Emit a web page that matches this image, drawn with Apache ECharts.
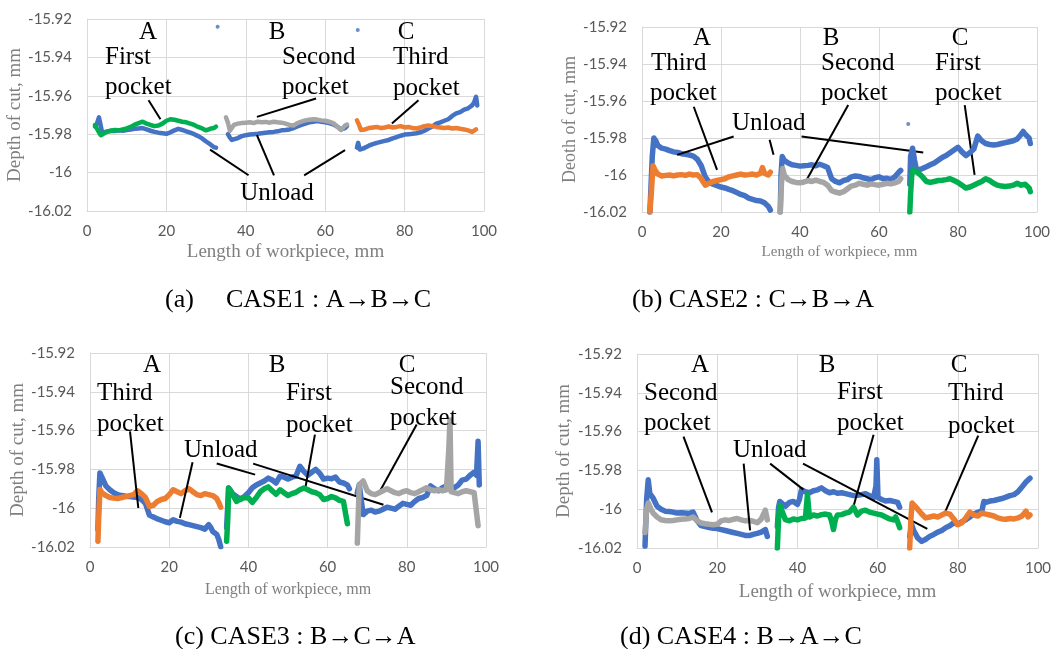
<!DOCTYPE html>
<html>
<head>
<meta charset="utf-8">
<script src="https://cdn.jsdelivr.net/npm/echarts@6/dist/echarts.min.js"></script>
<style>
  html, body { margin: 0; padding: 0; background: #fff; }
  #main { width: 1060px; height: 649px; }
</style>
</head>
<body>
<div id="main"></div>
<script>
// colours of the excel series
var colors = {blue: '#4472C4', orange: '#ED7D31', gray: '#A5A5A5', green: '#00B050'};

var yTicks = [-16.02, -16.00, -15.98, -15.96, -15.94, -15.92];
var xTicks = [0, 20, 40, 60, 80, 100];

/* ---------- CASE1 (a) ---------- */
var aBlueA = [[2,-15.9760],[2.5,-15.9745],[3,-15.9712],[3.3,-15.9740],[3.8,-15.9790],[4.5,-15.9788],[5,-15.9785],[6,-15.9782],[7,-15.9784],[8,-15.9780],[9,-15.9782],[10,-15.9778],[11,-15.9775],[12,-15.9772],[13,-15.9770],[14,-15.9768],[15,-15.9775],[16,-15.9782],[17,-15.9788],[18,-15.9792],[19,-15.9795],[20,-15.9798],[21,-15.9790],[22,-15.9780],[23,-15.9772],[24,-15.9778],[25,-15.9785],[26,-15.9792],[27,-15.9800],[28,-15.9810],[29,-15.9822],[30,-15.9838],[31,-15.9852],[32,-15.9868],[32.5,-15.9870]];
var aGreenA = [[2,-15.9752],[3,-15.9790],[3.5,-15.9805],[4,-15.9795],[5,-15.9788],[6,-15.9782],[7,-15.9778],[8,-15.9780],[9,-15.9775],[10,-15.9770],[11,-15.9762],[12,-15.9750],[13,-15.9742],[14,-15.9735],[15,-15.9745],[16,-15.9752],[17,-15.9758],[18,-15.9755],[19,-15.9745],[20,-15.9730],[21,-15.9722],[22,-15.9725],[23,-15.9730],[24,-15.9735],[25,-15.9738],[26,-15.9745],[27,-15.9752],[28,-15.9762],[29,-15.9770],[30,-15.9780],[31,-15.9772],[32,-15.9768],[32.5,-15.9760]];
var aBlueB = [[35.5,-15.9800],[36,-15.9818],[36.5,-15.9830],[37,-15.9835],[38,-15.9820],[39,-15.9810],[40,-15.9805],[41,-15.9802],[42,-15.9800],[43,-15.9798],[44,-15.9795],[45,-15.9792],[46,-15.9790],[47,-15.9788],[48,-15.9785],[49,-15.9780],[50,-15.9778],[51,-15.9775],[52,-15.9768],[53,-15.9760],[54,-15.9752],[55,-15.9745],[56,-15.9738],[57,-15.9735],[58,-15.9732],[59,-15.9735],[60,-15.9738],[61,-15.9742],[62,-15.9748],[63,-15.9760],[64,-15.9775],[64.5,-15.9780],[65,-15.9768],[65.5,-15.9758]];
var aGrayB = [[35,-15.9712],[35.5,-15.9740],[36,-15.9782],[36.5,-15.9775],[37,-15.9752],[38,-15.9745],[39,-15.9742],[40,-15.9740],[41,-15.9738],[42,-15.9742],[43,-15.9735],[44,-15.9738],[45,-15.9736],[46,-15.9740],[47,-15.9735],[48,-15.9738],[49,-15.9740],[50,-15.9745],[51,-15.9752],[52,-15.9755],[53,-15.9742],[54,-15.9735],[55,-15.9728],[56,-15.9725],[57,-15.9722],[58,-15.9724],[59,-15.9728],[60,-15.9730],[61,-15.9735],[62,-15.9742],[63,-15.9760],[64,-15.9778],[64.5,-15.9770],[65,-15.9755],[65.5,-15.9750]];
var aBlueC = [[68,-15.9870],[68.3,-15.9845],[68.7,-15.9880],[69,-15.9888],[69.5,-15.9875],[70,-15.9870],[71,-15.9860],[72,-15.9852],[73,-15.9845],[74,-15.9840],[75,-15.9835],[76,-15.9830],[77,-15.9822],[78,-15.9815],[79,-15.9808],[80,-15.9802],[81,-15.9800],[82,-15.9798],[83,-15.9795],[84,-15.9790],[85,-15.9782],[86,-15.9770],[87,-15.9760],[88,-15.9745],[89,-15.9738],[90,-15.9730],[91,-15.9722],[92,-15.9705],[93,-15.9692],[94,-15.9685],[95,-15.9672],[96,-15.9665],[97,-15.9650],[97.5,-15.9635],[98,-15.9605],[98.3,-15.9650]];
var aOrangeC = [[68,-15.9728],[68.5,-15.9750],[69,-15.9778],[69.5,-15.9785],[70,-15.9775],[71,-15.9768],[72,-15.9765],[73,-15.9762],[74,-15.9768],[75,-15.9765],[76,-15.9760],[77,-15.9765],[78,-15.9762],[79,-15.9758],[80,-15.9765],[81,-15.9762],[82,-15.9768],[83,-15.9770],[84,-15.9765],[85,-15.9758],[86,-15.9755],[87,-15.9758],[88,-15.9762],[89,-15.9765],[90,-15.9768],[91,-15.9765],[92,-15.9770],[93,-15.9768],[94,-15.9772],[95,-15.9775],[96,-15.9780],[97,-15.9788],[97.5,-15.9782],[98,-15.9775]];
var aOutliers = [[32.9,-15.9240],[68.2,-15.9257]];
var aLeaders = [[15.5,-15.9623,18.5,-15.9722],[57.7,-15.9614,42.8,-15.9710],[83.5,-15.9623,76.8,-15.9744],[40.7,-16.0014,31.0,-15.9880],[47.1,-16.0014,42.8,-15.9805],[54.7,-16.0014,65.0,-15.9883]];

/* ---------- CASE2 (b) ---------- */
var bBlueA = [[2,-16.0200],[2.3,-16.0050],[2.6,-15.9900],[3,-15.9800],[3.5,-15.9815],[4,-15.9840],[5,-15.9855],[6,-15.9860],[7,-15.9868],[8,-15.9875],[9,-15.9878],[10,-15.9885],[11,-15.9888],[12,-15.9892],[13,-15.9898],[14,-15.9915],[15,-15.9950],[16,-16.0010],[17,-16.0040],[18,-16.0050],[19,-16.0058],[20,-16.0065],[21,-16.0070],[22,-16.0078],[23,-16.0085],[24,-16.0095],[25,-16.0105],[26,-16.0112],[27,-16.0125],[28,-16.0132],[29,-16.0138],[30,-16.0140],[31,-16.0150],[32,-16.0170],[32.5,-16.0190]];
var bOrangeA = [[2,-16.0200],[2.4,-16.0080],[2.8,-15.9950],[3.2,-15.9970],[4,-15.9995],[5,-16.0005],[6,-16.0002],[7,-16.0000],[8,-16.0005],[9,-16.0000],[10,-15.9998],[11,-16.0002],[12,-15.9995],[13,-16.0000],[14,-15.9998],[15,-16.0020],[16,-16.0055],[17,-16.0045],[18,-16.0035],[19,-16.0030],[20,-16.0025],[21,-16.0020],[22,-16.0010],[23,-16.0005],[24,-16.0000],[25,-15.9995],[26,-16.0000],[27,-15.9998],[28,-15.9995],[29,-16.0000],[30,-15.9990],[30.5,-15.9960],[31,-15.9990],[32,-16.0000],[32.5,-15.9985]];
var bBlueB = [[35,-16.0200],[35.2,-16.0000],[35.5,-15.9900],[36,-15.9920],[37,-15.9935],[38,-15.9945],[39,-15.9948],[40,-15.9952],[41,-15.9950],[42,-15.9948],[43,-15.9945],[44,-15.9950],[45,-15.9942],[46,-15.9950],[47,-15.9960],[48,-16.0020],[49,-16.0035],[50,-16.0042],[51,-16.0030],[52,-16.0025],[53,-16.0010],[54,-16.0005],[55,-16.0008],[56,-16.0015],[57,-16.0020],[58,-16.0025],[59,-16.0015],[60,-16.0010],[61,-16.0020],[62,-16.0018],[63,-16.0025],[64,-16.0010],[65,-15.9985],[65.5,-15.9975]];
var bGrayB = [[35,-16.0200],[35.3,-16.0050],[35.6,-15.9965],[36,-16.0000],[37,-16.0025],[38,-16.0035],[39,-16.0040],[40,-16.0042],[41,-16.0038],[42,-16.0030],[43,-16.0035],[44,-16.0028],[45,-16.0035],[46,-16.0040],[47,-16.0055],[48,-16.0085],[49,-16.0092],[50,-16.0098],[51,-16.0090],[52,-16.0075],[53,-16.0060],[54,-16.0055],[55,-16.0045],[56,-16.0050],[57,-16.0055],[58,-16.0048],[59,-16.0052],[60,-16.0055],[61,-16.0050],[62,-16.0045],[63,-16.0048],[64,-16.0042],[65,-16.0035],[65.5,-16.0020]];
var bBlueC = [[67.8,-16.0050],[68,-15.9900],[68.5,-15.9855],[69,-15.9920],[69.5,-15.9975],[70,-15.9980],[71,-15.9965],[72,-15.9955],[73,-15.9945],[74,-15.9935],[75,-15.9920],[76,-15.9905],[77,-15.9895],[78,-15.9880],[79,-15.9865],[80,-15.9850],[81,-15.9875],[82,-15.9895],[83,-15.9880],[84,-15.9860],[85,-15.9790],[86,-15.9815],[87,-15.9830],[88,-15.9835],[89,-15.9838],[90,-15.9835],[91,-15.9830],[92,-15.9825],[93,-15.9820],[94,-15.9815],[95,-15.9805],[96,-15.9780],[96.5,-15.9765],[97,-15.9780],[98,-15.9800],[98.3,-15.9830]];
var bGreenC = [[67.8,-16.0200],[68,-16.0100],[68.3,-16.0000],[68.7,-15.9970],[69,-15.9975],[70,-15.9990],[71,-16.0010],[72,-16.0035],[73,-16.0040],[74,-16.0035],[75,-16.0030],[76,-16.0028],[77,-16.0025],[78,-16.0020],[79,-16.0030],[80,-16.0040],[81,-16.0055],[82,-16.0070],[83,-16.0065],[84,-16.0055],[85,-16.0045],[86,-16.0035],[87,-16.0020],[88,-16.0030],[89,-16.0045],[90,-16.0055],[91,-16.0060],[92,-16.0062],[93,-16.0060],[94,-16.0055],[95,-16.0045],[96,-16.0055],[97,-16.0050],[98,-16.0070],[98.3,-16.0090]];
var bOutliers = [[67.4,-15.9724]];
var bLeaders = [[13.1,-15.9631,19.0,-15.9972],[23.2,-15.9792,8.9,-15.9891],[32.3,-15.9810,33.3,-15.9891],[40.4,-15.9792,71.2,-15.9879],[52.2,-15.9622,41.7,-16.0026],[81.7,-15.9622,84.2,-15.9999]];

/* ---------- CASE3 (c) ---------- */
var cBlueA = [[2,-16.0110],[2.2,-15.9950],[2.5,-15.9818],[3,-15.9840],[4,-15.9885],[5,-15.9905],[6,-15.9920],[7,-15.9930],[8,-15.9935],[9,-15.9938],[10,-15.9940],[11,-15.9942],[12,-15.9945],[13,-15.9955],[14,-15.9975],[15,-16.0035],[16,-16.0045],[17,-16.0055],[18,-16.0062],[19,-16.0070],[20,-16.0075],[21,-16.0060],[22,-16.0068],[23,-16.0072],[24,-16.0080],[25,-16.0085],[26,-16.0090],[27,-16.0095],[28,-16.0100],[29,-16.0108],[30,-16.0085],[30.5,-16.0100],[31,-16.0120],[32,-16.0135],[32.5,-16.0160],[33,-16.0198]];
var cOrangeA = [[2,-16.0170],[2.2,-16.0050],[2.5,-15.9904],[3,-15.9920],[4,-15.9935],[5,-15.9945],[6,-15.9948],[7,-15.9950],[8,-15.9945],[9,-15.9940],[10,-15.9935],[11,-15.9930],[12,-15.9910],[13,-15.9925],[14,-15.9945],[15,-15.9990],[16,-15.9985],[17,-15.9965],[18,-15.9955],[19,-15.9950],[20,-15.9930],[21,-15.9905],[22,-15.9915],[23,-15.9925],[24,-15.9910],[25,-15.9900],[26,-15.9915],[27,-15.9930],[28,-15.9935],[29,-15.9925],[30,-15.9930],[31,-15.9935],[32,-15.9950],[32.5,-15.9970],[33,-15.9995]];
var cBlueB = [[34.5,-16.0100],[35,-15.9896],[36,-15.9925],[37,-15.9940],[38,-15.9955],[39,-15.9940],[40,-15.9920],[41,-15.9895],[42,-15.9880],[43,-15.9870],[44,-15.9860],[45,-15.9845],[46,-15.9855],[47,-15.9870],[48,-15.9835],[49,-15.9840],[50,-15.9850],[51,-15.9840],[52,-15.9835],[53,-15.9784],[54,-15.9810],[55,-15.9830],[56,-15.9815],[57,-15.9800],[58,-15.9820],[59,-15.9850],[60,-15.9845],[61,-15.9848],[62,-15.9840],[63,-15.9865],[64,-15.9870],[65,-15.9880],[65.5,-15.9900]];
var cGreenB = [[34.5,-16.0170],[34.8,-16.0050],[35,-15.9896],[35.5,-15.9910],[36,-15.9930],[37,-15.9965],[38,-15.9950],[39,-15.9945],[40,-15.9947],[41,-15.9970],[42,-15.9945],[43,-15.9915],[44,-15.9900],[45,-15.9890],[46,-15.9910],[47,-15.9928],[48,-15.9905],[49,-15.9920],[50,-15.9935],[51,-15.9925],[52,-15.9918],[53,-15.9905],[54,-15.9896],[55,-15.9905],[56,-15.9915],[57,-15.9920],[58,-15.9930],[59,-15.9955],[60,-15.9950],[61,-15.9940],[62,-15.9947],[63,-15.9960],[64,-15.9965],[64.5,-15.9975],[65,-16.0080]];
var cBlueC = [[67.5,-15.9920],[68,-15.9880],[68.5,-15.9960],[69,-16.0033],[70,-16.0015],[71,-16.0010],[72,-16.0020],[73,-16.0015],[74,-16.0005],[75,-15.9995],[76,-16.0000],[77,-16.0005],[78,-15.9990],[79,-15.9975],[80,-15.9980],[81,-15.9985],[82,-15.9965],[83,-15.9950],[84,-15.9945],[85,-15.9935],[86,-15.9885],[87,-15.9900],[88,-15.9910],[89,-15.9895],[90,-15.9885],[91,-15.9890],[92,-15.9895],[93,-15.9880],[94,-15.9855],[95,-15.9850],[96,-15.9830],[97,-15.9815],[97.6,-15.9830],[98,-15.9655],[98.3,-15.9880]];
var cGrayC = [[67.5,-16.0180],[67.8,-16.0000],[68,-15.9879],[69,-15.9860],[70,-15.9910],[71,-15.9925],[72,-15.9930],[73,-15.9920],[74,-15.9910],[75,-15.9900],[76,-15.9910],[77,-15.9920],[78,-15.9925],[79,-15.9915],[80,-15.9910],[81,-15.9920],[82,-15.9925],[83,-15.9915],[84,-15.9905],[85,-15.9895],[86,-15.9905],[87,-15.9910],[88,-15.9905],[89,-15.9910],[90,-15.9905],[90.6,-15.9700],[90.9,-15.9545],[91.2,-15.9915],[92,-15.9920],[93,-15.9925],[94,-15.9915],[95,-15.9910],[96,-15.9915],[97,-15.9920],[97.5,-15.9910],[98,-16.0090]];
var cOutliers = [];
var cLeaders = [[10.1,-15.9604,12.2,-15.9999],[25.9,-15.9763,22.7,-16.0050],[32.0,-15.9770,41.7,-15.9827],[41.2,-15.9770,74.1,-15.9982],[56.8,-15.9621,54.3,-15.9904],[82.5,-15.9569,73.2,-15.9913]];

/* ---------- CASE4 (d) ---------- */
var dBlueA = [[2,-16.0190],[2.4,-15.9950],[2.8,-15.9848],[3.2,-15.9920],[4,-15.9942],[5,-15.9985],[6,-16.0000],[7,-16.0010],[8,-16.0012],[9,-16.0015],[10,-16.0020],[11,-16.0018],[12,-16.0020],[13,-16.0022],[14,-16.0015],[15,-16.0060],[16,-16.0085],[17,-16.0090],[18,-16.0095],[19,-16.0098],[20,-16.0100],[21,-16.0105],[22,-16.0110],[23,-16.0115],[24,-16.0120],[25,-16.0125],[26,-16.0130],[27,-16.0135],[28,-16.0136],[29,-16.0130],[30,-16.0125],[31,-16.0118],[32,-16.0105],[32.5,-16.0140]];
var dGrayA = [[2,-16.0120],[2.4,-16.0000],[2.8,-15.9968],[3.5,-16.0000],[4,-16.0020],[5,-16.0040],[6,-16.0054],[7,-16.0058],[8,-16.0060],[9,-16.0058],[10,-16.0055],[11,-16.0052],[12,-16.0050],[13,-16.0048],[14,-16.0040],[15,-16.0060],[16,-16.0071],[17,-16.0075],[18,-16.0078],[19,-16.0080],[20,-16.0078],[21,-16.0060],[22,-16.0055],[23,-16.0058],[24,-16.0052],[25,-16.0048],[26,-16.0055],[27,-16.0060],[28,-16.0058],[29,-16.0062],[30,-16.0070],[31,-16.0050],[32,-16.0005],[32.5,-16.0055]];
var dBlueB = [[35,-16.0090],[35.3,-15.9990],[35.6,-15.9960],[36,-15.9970],[37,-15.9985],[38,-15.9965],[39,-15.9960],[40,-15.9975],[40.5,-15.9950],[41,-15.9900],[42,-15.9910],[43,-15.9915],[44,-15.9905],[45,-15.9900],[46,-15.9890],[47,-15.9905],[48,-15.9915],[49,-15.9910],[50,-15.9918],[51,-15.9915],[52,-15.9920],[53,-15.9925],[54,-15.9930],[55,-15.9928],[56,-15.9925],[57,-15.9920],[58,-15.9930],[59,-15.9940],[59.6,-15.9880],[59.8,-15.9745],[60.1,-15.9940],[61,-15.9950],[62,-15.9958],[63,-15.9955],[64,-15.9960],[65,-15.9965],[65.5,-15.9990]];
var dGreenB = [[35,-16.0200],[35.3,-16.0050],[35.6,-15.9980],[36,-16.0000],[37,-16.0054],[38,-16.0060],[39,-16.0050],[40,-16.0055],[41,-16.0048],[42,-16.0045],[42.5,-15.9925],[43,-16.0040],[44,-16.0030],[45,-16.0035],[46,-16.0028],[47,-16.0025],[48,-16.0030],[48.5,-16.0060],[49,-16.0105],[49.5,-16.0050],[50,-16.0030],[51,-16.0028],[52,-16.0020],[53,-16.0015],[54,-15.9990],[55,-16.0030],[56,-16.0010],[57,-16.0005],[58,-16.0015],[59,-16.0020],[60,-16.0025],[61,-16.0030],[62,-16.0040],[63,-16.0050],[64,-16.0055],[64.5,-16.0040],[65,-16.0065],[65.5,-16.0095]];
var dBlueC = [[68,-16.0140],[68.5,-16.0080],[69,-16.0110],[70,-16.0148],[71,-16.0166],[72,-16.0155],[73,-16.0140],[74,-16.0130],[75,-16.0118],[76,-16.0110],[77,-16.0095],[78,-16.0085],[79,-16.0070],[80,-16.0078],[81,-16.0065],[82,-16.0055],[83,-16.0040],[84,-16.0025],[85,-16.0015],[86,-16.0010],[86.5,-15.9960],[87,-15.9965],[88,-15.9958],[89,-15.9955],[90,-15.9950],[91,-15.9945],[92,-15.9938],[93,-15.9930],[94,-15.9925],[95,-15.9910],[96,-15.9885],[97,-15.9860],[98,-15.9840]];
var dOrangeC = [[68,-16.0200],[68.3,-16.0050],[68.6,-15.9968],[69,-15.9975],[70,-16.0000],[71,-16.0025],[72,-16.0045],[73,-16.0040],[74,-16.0035],[75,-16.0040],[76,-16.0030],[77,-16.0020],[78,-16.0025],[79,-16.0050],[80,-16.0080],[81,-16.0070],[82,-16.0045],[83,-16.0015],[84,-16.0030],[85,-16.0035],[86,-16.0020],[87,-16.0025],[88,-16.0030],[89,-16.0035],[90,-16.0045],[91,-16.0050],[92,-16.0052],[93,-16.0048],[94,-16.0050],[95,-16.0045],[96,-16.0035],[97,-16.0010],[97.5,-16.0040],[98,-16.0030]];
var dOutliers = [];
var dLeaders = [[11.6,-15.9626,18.7,-16.0016],[26.6,-15.9765,28.2,-16.0109],[33.2,-15.9765,41.5,-15.9899],[41.4,-15.9765,72.4,-16.0102],[59.0,-15.9616,54.0,-15.9985],[85.1,-15.9621,76.8,-16.0016]];

var panels = [
  {grid: {left: 87, top: 19, width: 397, height: 192}, xName: 'Length of workpiece, mm', xSize: 19, xGap: 32,
   yName: 'Depth of cut, mm', ySize: 19, yGap: 62, lw: 4.5,
   lines: [[aBlueA, 'blue'], [aGreenA, 'green'], [aBlueB, 'blue'], [aGrayB, 'gray'], [aBlueC, 'blue'], [aOrangeC, 'orange']],
   outliers: aOutliers, leaders: aLeaders},
  {grid: {left: 642, top: 27, width: 395, height: 185}, xName: 'Length of workpiece, mm', xSize: 15, xGap: 33,
   yName: 'Deoth of cut, mm', ySize: 18, yGap: 59, lw: 5.5,
   lines: [[bBlueA, 'blue'], [bOrangeA, 'orange'], [bBlueB, 'blue'], [bGrayB, 'gray'], [bBlueC, 'blue'], [bGreenC, 'green']],
   outliers: bOutliers, leaders: bLeaders},
  {grid: {left: 90, top: 353, width: 396, height: 194}, xName: 'Length of workpiece, mm', xSize: 16, xGap: 35,
   yName: 'Depth of cut, mm', ySize: 19, yGap: 62, lw: 5.5,
   lines: [[cBlueA, 'blue'], [cOrangeA, 'orange'], [cBlueB, 'blue'], [cGreenB, 'green'], [cBlueC, 'blue'], [cGrayC, 'gray']],
   outliers: cOutliers, leaders: cLeaders},
  {grid: {left: 637, top: 354, width: 401, height: 194}, xName: 'Length of workpiece, mm', xSize: 19, xGap: 35,
   yName: 'Depth of cut, mm', ySize: 19, yGap: 63, lw: 5.5,
   lines: [[dBlueA, 'blue'], [dGrayA, 'gray'], [dBlueB, 'blue'], [dGreenB, 'green'], [dBlueC, 'blue'], [dOrangeC, 'orange']],
   outliers: dOutliers, leaders: dLeaders}
];

// annotation texts: [text, x, y, align]
var notes = [
  ['A', 148, 32, 'center'], ['B', 277, 32, 'center'], ['C', 406, 32, 'center'],
  ['First', 105, 57, 'left'], ['pocket', 105, 87, 'left'], ['Second', 282, 57, 'left'], ['pocket', 282, 87, 'left'],
  ['Third', 393, 57, 'left'], ['pocket', 393, 88, 'left'], ['Unload', 277, 193, 'center'],
  ['A', 702, 38, 'center'], ['B', 831, 38, 'center'], ['C', 960, 38, 'center'],
  ['Third', 651, 63, 'left'], ['pocket', 650, 93, 'left'], ['Second', 821, 63, 'left'], ['pocket', 821, 93, 'left'],
  ['First', 935, 63, 'left'], ['pocket', 935, 93, 'left'], ['Unload', 732, 123, 'left'],
  ['A', 152, 365, 'center'], ['B', 277, 365, 'center'], ['C', 407, 365, 'center'],
  ['Third', 97, 393, 'left'], ['pocket', 97, 424, 'left'], ['First', 286, 393, 'left'], ['pocket', 286, 425, 'left'],
  ['Second', 390, 387, 'left'], ['pocket', 390, 418, 'left'], ['Unload', 184, 450, 'left'],
  ['A', 700, 365, 'center'], ['B', 827, 365, 'center'], ['C', 959, 365, 'center'],
  ['Second', 644, 393, 'left'], ['pocket', 644, 423, 'left'], ['First', 837, 392, 'left'], ['pocket', 837, 423, 'left'],
  ['Third', 948, 393, 'left'], ['pocket', 948, 426, 'left'], ['Unload', 733, 450, 'left']
];
var captions = [
  ['(a)', 165, 300], ['CASE1 : A\u2192B\u2192C', 226, 300],
  ['(b) CASE2 : C\u2192B\u2192A', 632, 300],
  ['(c) CASE3 : B\u2192C\u2192A', 175, 637],
  ['(d) CASE4 : B\u2192A\u2192C', 620, 637]
];

var grids = [], xAxes = [], yAxes = [], series = [], graphics = [];
var gridLine = {show: true, lineStyle: {color: '#d9d9d9', width: 1}};

panels.forEach(function(p, i) {
  grids.push(p.grid);
  xAxes.push({
    type: 'value', gridIndex: i, min: xTicks[0], max: xTicks[xTicks.length - 1], interval: 20,
    name: p.xName, nameLocation: 'middle', nameGap: p.xGap,
    nameTextStyle: {fontFamily: 'Liberation Serif', fontSize: p.xSize, color: '#7f7f7f'},
    axisLine: {show: true, lineStyle: {color: '#d9d9d9'}}, axisTick: {show: false},
    axisLabel: {fontFamily: 'Lato', fontSize: 15, color: '#595959', margin: 13},
    splitLine: gridLine
  });
  yAxes.push({
    type: 'value', gridIndex: i, min: yTicks[0], max: yTicks[yTicks.length - 1], interval: 0.02,
    name: p.yName, nameLocation: 'middle', nameGap: p.yGap,
    nameTextStyle: {fontFamily: 'Liberation Serif', fontSize: p.ySize, color: '#7f7f7f'},
    axisLine: {show: true, lineStyle: {color: '#d9d9d9'}}, axisTick: {show: false},
    axisLabel: {fontFamily: 'Lato', fontSize: 15, color: '#595959', margin: 15},
    splitLine: gridLine
  });
  p.lines.forEach(function(l, k) {
    var s = {
      type: 'line', xAxisIndex: i, yAxisIndex: i, data: l[0],
      showSymbol: false, symbol: 'none', silent: true, animation: false,
      lineStyle: {color: colors[l[1]], width: p.lw, join: 'round', cap: 'round'},
      z: 2 + k
    };
    if (k === p.lines.length - 1) {
      s.markLine = {
        symbol: 'none', silent: true, animation: false, label: {show: false},
        lineStyle: {color: '#000', width: 2, type: 'solid'},
        data: p.leaders.map(function(d) { return [{coord: [d[0], d[1]]}, {coord: [d[2], d[3]]}]; })
      };
    }
    series.push(s);
  });
  if (p.outliers.length) {
    series.push({
      type: 'scatter', xAxisIndex: i, yAxisIndex: i, data: p.outliers,
      symbolSize: 4, itemStyle: {color: colors.blue}, silent: true, animation: false
    });
  }
});

notes.forEach(function(n) {
  graphics.push({type: 'text', x: n[1], y: n[2], z: 100, silent: true,
    style: {text: n[0], fill: '#000', font: '25px "Liberation Serif"', textAlign: n[3], textVerticalAlign: 'middle'}});
});
captions.forEach(function(c) {
  graphics.push({type: 'text', x: c[1], y: c[2], z: 100, silent: true,
    style: {text: c[0], fill: '#000', font: '26px "Liberation Serif"', textAlign: 'left', textVerticalAlign: 'middle'}});
});

var myChart = echarts.init(document.getElementById('main'));
var option = {
  animation: false,
  grid: grids,
  xAxis: xAxes,
  yAxis: yAxes,
  series: series,
  graphic: graphics
};
myChart.setOption(option, true);
</script>
</body>
</html>
